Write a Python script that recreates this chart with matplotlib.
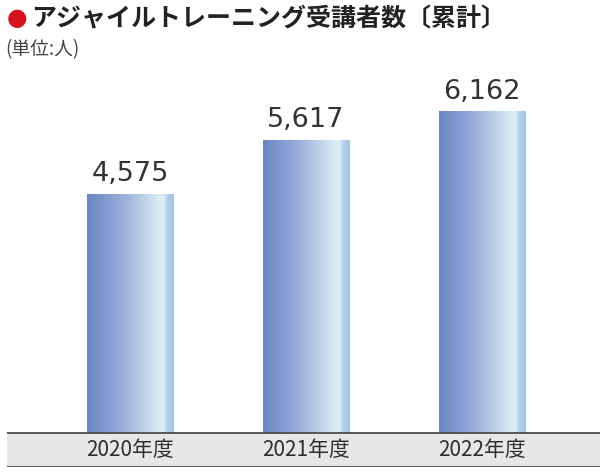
import numpy as np
import matplotlib
matplotlib.use("Agg")
import matplotlib.pyplot as plt
from matplotlib.colors import LinearSegmentedColormap
from matplotlib.patches import Rectangle

plt.rcParams['font.family'] = ['Noto Sans CJK JP', 'DejaVu Sans']

years = ["2020年度", "2021年度", "2022年度"]
counts = [4575, 5617, 6162]

title = "アジャイルトレーニング受講者数〔累計〕"
unit = "(単位:人)"

band = 651
ymax = 6954

fig = plt.figure(figsize=(6.06, 4.72), dpi=100)
ax = fig.add_axes([7 / 606, 5 / 472, 593 / 606, 397 / 472])
ax.set_xlim(-0.699, 2.67)
ax.set_ylim(-band, ymax)
ax.axis("off")

# grey band holding the year labels
ax.add_patch(Rectangle((-0.699, -band), 3.369, band, facecolor="#e6e7e8", edgecolor="none", zorder=1))
ax.axhline(0, color="#4d4d4d", lw=1.3, zorder=3)
ax.axhline(-band, color="#4d4d4d", lw=1.3, zorder=3)

cmap = LinearSegmentedColormap.from_list("bar", [
    (0.0, "#6b84c4"), (0.45, "#9fb3dc"), (0.82, "#d6ebf4"), (0.88, "#ddf0f6"),
    (0.93, "#b4cdea"), (1.0, "#a6c2e6")])
grad = np.linspace(0, 1, 256).reshape(1, -1)

w = 0.49
for i, (yr, v) in enumerate(zip(years, counts)):
    bar = Rectangle((i - w / 2, 0), w, v, facecolor="none", edgecolor="none")
    ax.add_patch(bar)
    im = ax.imshow(grad, cmap=cmap, aspect="auto", extent=(i - w / 2, i + w / 2, 0, v), zorder=2)
    im.set_clip_path(bar)
    ax.text(i, v + 130, f"{v:,}", ha="center", va="bottom", fontsize=19.5, color="#333333",
            family=["DejaVu Sans"])
    ax.text(i, -band / 2, yr, ha="center", va="center", fontsize=15, color="#2e2e2e")

fig.text(7 / 606, 1 - 18 / 472, "●", fontsize=17, color="#d7141e", va="center", ha="left",
         family=["DejaVu Sans"])
fig.text(31 / 606, 1 - 19 / 472, title, fontsize=18, fontweight="bold", color="#222222",
         va="center", ha="left")
fig.text(5 / 606, 1 - 50 / 472, unit, fontsize=13.5, color="#444444", va="center", ha="left")

fig.savefig("out.png", dpi=100)
